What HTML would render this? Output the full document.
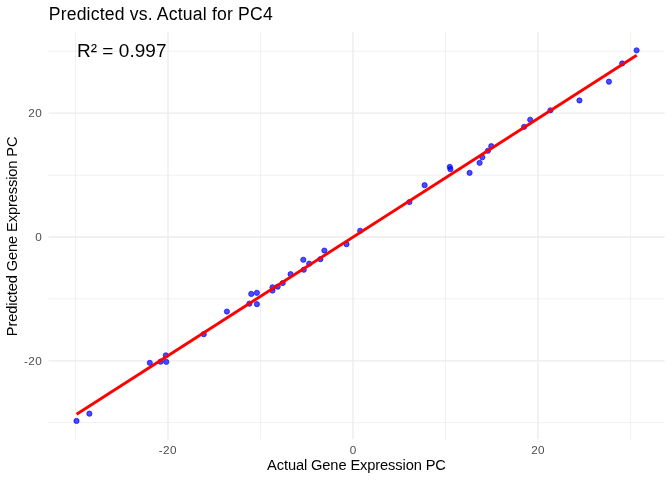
<!DOCTYPE html>
<html><head><meta charset="utf-8"><title>Predicted vs. Actual for PC4</title>
<style>html,body{margin:0;padding:0;background:#fff;}svg{display:block;}text{font-family:"Liberation Sans",Arial,sans-serif;}</style></head><body>
<svg width="672" height="480" viewBox="0 0 672 480">
<rect width="672" height="480" fill="#fff"/>
<g stroke="#ebebeb" stroke-width="0.7" fill="none">
<line x1="75.5" y1="31.65" x2="75.5" y2="439.3"/>
<line x1="260.5" y1="31.65" x2="260.5" y2="439.3"/>
<line x1="445.5" y1="31.65" x2="445.5" y2="439.3"/>
<line x1="630.5" y1="31.65" x2="630.5" y2="439.3"/>
<line x1="48.5" y1="51.3" x2="664.67" y2="51.3"/>
<line x1="48.5" y1="175.25" x2="664.67" y2="175.25"/>
<line x1="48.5" y1="298.85" x2="664.67" y2="298.85"/>
<line x1="48.5" y1="422.55" x2="664.67" y2="422.55"/>
</g><g stroke="#ebebeb" stroke-width="1.3" fill="none">
<line x1="168.0" y1="31.65" x2="168.0" y2="439.3"/>
<line x1="353.0" y1="31.65" x2="353.0" y2="439.3"/>
<line x1="538.0" y1="31.65" x2="538.0" y2="439.3"/>
<line x1="48.5" y1="113.1" x2="664.67" y2="113.1"/>
<line x1="48.5" y1="237.0" x2="664.67" y2="237.0"/>
<line x1="48.5" y1="360.85" x2="664.67" y2="360.85"/>
</g>
<g fill="#0000ff" fill-opacity="0.7" stroke="#0000ff" stroke-opacity="0.7" stroke-width="0.945">
<circle cx="76.5" cy="420.95" r="2.606"/>
<circle cx="89.4" cy="413.65" r="2.606"/>
<circle cx="149.8" cy="362.85" r="2.606"/>
<circle cx="160.6" cy="361.65" r="2.606"/>
<circle cx="165.8" cy="355.35" r="2.606"/>
<circle cx="166.25" cy="361.85" r="2.606"/>
<circle cx="203.75" cy="334.15" r="2.606"/>
<circle cx="226.9" cy="311.55" r="2.606"/>
<circle cx="249.4" cy="303.65" r="2.606"/>
<circle cx="251.25" cy="293.90" r="2.606"/>
<circle cx="256.9" cy="292.85" r="2.606"/>
<circle cx="256.9" cy="304.15" r="2.606"/>
<circle cx="272.5" cy="290.55" r="2.606"/>
<circle cx="272.5" cy="287.25" r="2.606"/>
<circle cx="277.7" cy="286.65" r="2.606"/>
<circle cx="282.7" cy="283.05" r="2.606"/>
<circle cx="290.6" cy="274.15" r="2.606"/>
<circle cx="303.75" cy="269.75" r="2.606"/>
<circle cx="303.3" cy="259.75" r="2.606"/>
<circle cx="309.2" cy="263.65" r="2.606"/>
<circle cx="320.4" cy="259.15" r="2.606"/>
<circle cx="324.4" cy="250.55" r="2.606"/>
<circle cx="346.5" cy="244.15" r="2.606"/>
<circle cx="360.2" cy="230.75" r="2.606"/>
<circle cx="409.4" cy="202.05" r="2.606"/>
<circle cx="424.6" cy="185.15" r="2.606"/>
<circle cx="449.8" cy="166.85" r="2.606"/>
<circle cx="450.4" cy="169.15" r="2.606"/>
<circle cx="469.6" cy="172.85" r="2.606"/>
<circle cx="479.6" cy="162.85" r="2.606"/>
<circle cx="482.3" cy="157.25" r="2.606"/>
<circle cx="487.9" cy="150.75" r="2.606"/>
<circle cx="491.25" cy="146.15" r="2.606"/>
<circle cx="524.1" cy="126.85" r="2.606"/>
<circle cx="530.2" cy="119.75" r="2.606"/>
<circle cx="550.4" cy="110.35" r="2.606"/>
<circle cx="579.45" cy="100.45" r="2.606"/>
<circle cx="608.95" cy="81.65" r="2.606"/>
<circle cx="622.2" cy="63.45" r="2.606"/>
<circle cx="636.6" cy="50.35" r="2.606"/>
</g>
<line x1="76.6" y1="414.2" x2="636.7" y2="55.3" stroke="#ff0000" stroke-width="2.85" stroke-linecap="butt"/>
<text x="76.9" y="56.9" font-size="18.97" fill="#000" textLength="89.6" lengthAdjust="spacing">R² = 0.997</text>
<text x="48.7" y="19.7" font-size="17.6" fill="#000" textLength="224.0" lengthAdjust="spacing">Predicted vs. Actual for PC4</text>
<g font-size="11.73" fill="#4d4d4d" text-anchor="end">
<text x="41.75" y="117.1" textLength="13.5" lengthAdjust="spacing">20</text>
<text x="41.75" y="241.0">0</text>
<text x="41.75" y="364.9" textLength="17.8" lengthAdjust="spacing">-20</text>
</g><g font-size="11.73" fill="#4d4d4d" text-anchor="middle">
<text x="167.60" y="454.2" textLength="17.8" lengthAdjust="spacing">-20</text>
<text x="352.90" y="454.2">0</text>
<text x="537.90" y="454.2" textLength="13.5" lengthAdjust="spacing">20</text>
</g>
<text x="356.5" y="470" font-size="14.67" fill="#000" text-anchor="middle" textLength="178.9" lengthAdjust="spacing">Actual Gene Expression PC</text>
<text transform="translate(16.9,236.3) rotate(-90)" font-size="14.67" fill="#000" text-anchor="middle" textLength="199.8" lengthAdjust="spacing">Predicted Gene Expression PC</text>
</svg></body></html>
